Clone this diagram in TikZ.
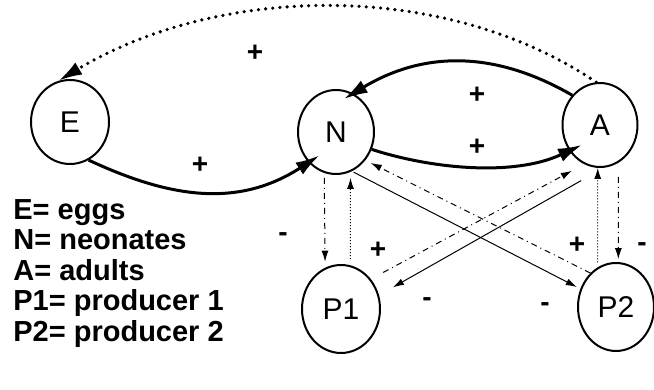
\documentclass[tikz,border=0pt]{standalone}
\usepackage{fontspec}
\setmainfont{Liberation Sans}
\usetikzlibrary{shapes.geometric,arrows.meta,positioning}

\begin{document}
\begin{tikzpicture}[x=0.5pt, y=0.5pt, >={Latex[length=5.5pt,width=3.5pt]},
    stage/.style={draw, ellipse, line width=1pt, inner sep=0pt, font=\fontsize{15}{18}\selectfont},
    legend/.style={anchor=west, inner sep=0pt, text height=10.5pt, text depth=3pt, font=\fontsize{14.5}{16}\selectfont\bfseries},
    sign/.style={inner sep=0pt, font=\fontsize{14}{16}\selectfont\bfseries},
    strong/.style={-{Latex[length=12pt,width=7pt]}, line width=1.5pt},
    weak/.style={->, line width=0.5pt}]
    \useasboundingbox (0,0) rectangle (654,390);

    % stages and producers
    \node [stage, minimum width=39pt, minimum height=42pt] (E) at (70,268) {E};
    \node [stage, minimum width=38pt, minimum height=42pt] (N) at (336,258) {N};
    \node [stage, minimum width=37.5pt, minimum height=42pt] (A) at (600,265) {A};
    \node [stage, minimum width=39pt, minimum height=44pt] (P1) at (341,81) {P1};
    \node [stage, minimum width=38pt, minimum height=44pt] (P2) at (616,83) {P2};

    % life cycle
    \draw [strong, shorten >=-6.5pt] (E.-64) to [out=-25, in=213] (N.-132);
    \draw [strong, shorten >=-7pt] (N.-26) to [out=-18, in=205, looseness=0.8] (A.-140);
    \draw [strong, shorten >=-5.5pt] (A.133) to [out=150, in=31] (N.66);
    \draw [strong, line width=1.8pt, dash pattern=on 0pt off 3.6pt, line cap=round] (A.95) to [out=146, in=31, looseness=0.88] (E.106);

    % producers
    \draw [weak, dash dot, shorten <=2.5pt, shorten >=3pt] (N.-106) -- (P1.111);
    \draw [weak, densely dotted, shorten <=3pt, shorten >=3pt] (P1.78) -- (N.-70);
    \draw [weak, dash dot, shorten <=7pt, shorten >=7pt] (P1.45) -- (A.-112);
    \draw [weak, shorten <=13pt, shorten >=8pt] (A.-85) -- (P1.20);
    \draw [weak, shorten <=1pt, shorten >=2pt] (N.-68) -- (P2.153);
    \draw [weak, dash dot, shorten >=3pt] (P2.127) -- (N.-44);
    \draw [weak, densely dotted, shorten <=2.5pt] (P2.115) -- (A.-93);
    \draw [weak, dash dot, shorten <=7pt, shorten >=1.5pt] (A.-64) -- (P2.87);

    % signs
    \node [sign] (sAE) at (255,337) {+};
    \node [sign] (sEN) at (200,225) {+};
    \node [sign] (sAN) at (477,295) {+};
    \node [sign] (sNA) at (477,243) {+};
    \node [sign] (sNP1) at (283,153) {-};
    \node [sign] (sP1N) at (378,140) {+};
    \node [sign] (sP2A) at (577,145) {+};
    \node [sign] (sAP2) at (642,143) {-};
    \node [sign] (sAP1) at (427,88) {-};
    \node [sign] (sNP2) at (545,83) {-};

    % legend
    \node [legend] (lE) at (13,178) {E= eggs};
    \node [legend, below=1.3pt of lE.south west, anchor=north west] (lN) {N= neonates};
    \node [legend, below=1.3pt of lN.south west, anchor=north west] (lA) {A= adults};
    \node [legend, below=1.3pt of lA.south west, anchor=north west] (lP1) {P1= producer 1};
    \node [legend, below=1.3pt of lP1.south west, anchor=north west] (lP2) {P2= producer 2};
\end{tikzpicture}
\end{document}
